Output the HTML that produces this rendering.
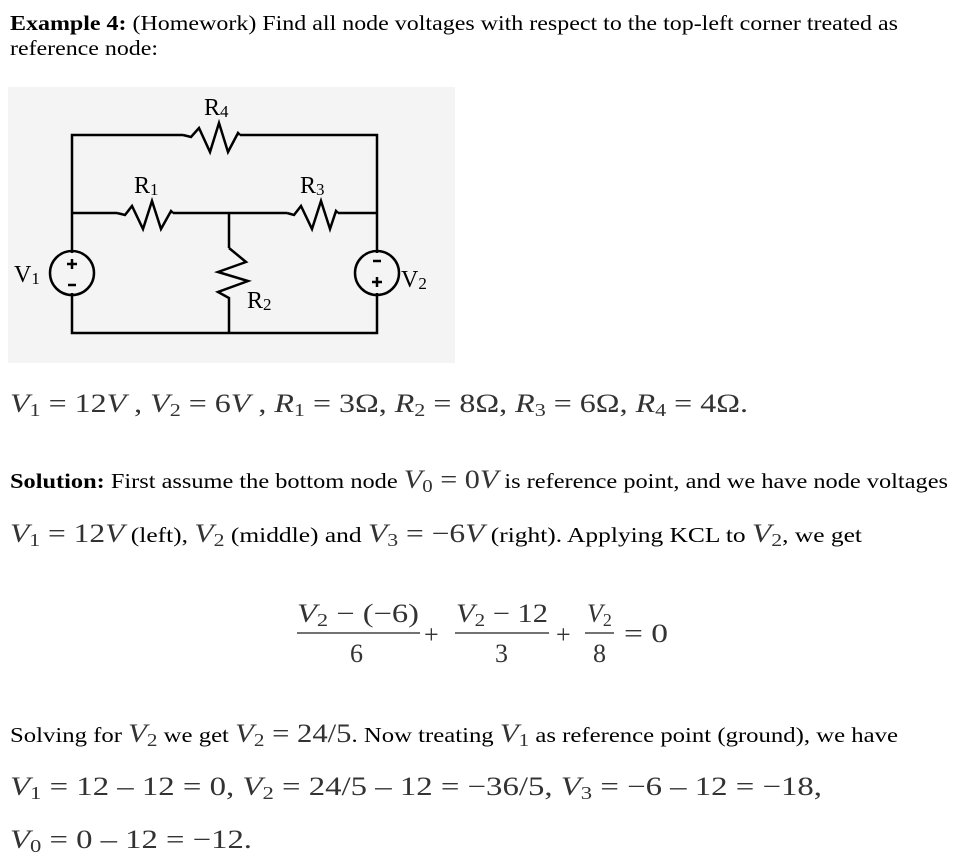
<!DOCTYPE html>
<html><head><meta charset="utf-8"><style>
html,body{margin:0;padding:0;background:#fff;}
svg{display:block;}
.t{font-family:"Liberation Serif",serif;font-size:21px;fill:#000;}
.m{font-family:"Liberation Serif",serif;font-size:26px;fill:#333;}
.c{font-family:"Liberation Serif",serif;font-size:24px;fill:#000;}
tspan.s{font-size:18px;font-style:normal;}
tspan.mi{font-size:26px;font-style:italic;fill:#333;}
tspan.mn{font-size:26px;font-style:normal;fill:#333;}
tspan.i{font-style:italic;}
tspan.sc{font-size:17px;}
</style></head><body>
<svg width="965" height="867" viewBox="0 0 965 867" xmlns="http://www.w3.org/2000/svg">
<text class="t" x="10" y="30" textLength="888" lengthAdjust="spacingAndGlyphs"><tspan font-weight="bold">Example 4:</tspan> (Homework) Find all node voltages with respect to the top-left corner treated as</text>
<text class="t" x="10" y="55" textLength="148" lengthAdjust="spacingAndGlyphs">reference node:</text>

<rect x="8" y="87" width="447" height="276" fill="#f4f4f4"/>
<g stroke="#000" stroke-width="2.5" fill="none">
<polyline points="72,253 72,135 183,135"/>
<polyline points="240,135 377,135 377,253"/>
<polyline points="72,293 72,333 377,333 377,293"/>
<line x1="72" y1="213" x2="117" y2="213"/>
<line x1="173" y1="213" x2="287" y2="213"/>
<line x1="338" y1="213" x2="377" y2="213"/>
<line x1="229" y1="213" x2="229" y2="248"/>
<line x1="229" y1="300" x2="229" y2="333"/>
<polyline points="183,135 191,137 199,128 210,152 219,123 228,152 238,133 240,135"/>
<polyline points="117,213 125,215 132,206 143,229 152,201 161,229 171,211 173,213"/>
<polyline points="287,213 294,215 301,206 312,229 321,201 330,229 336,211 338,213"/>
<polyline points="229,248 246,262 218,272 248,281 218,292 229,298 229,300"/>
<circle cx="72" cy="273" r="22"/>
<circle cx="377" cy="273" r="22"/>
<line x1="72" y1="259" x2="72" y2="269"/><line x1="67" y1="264" x2="77" y2="264"/>
<line x1="68" y1="285" x2="76" y2="285"/>
<line x1="373" y1="261" x2="381" y2="261"/>
<line x1="377" y1="277" x2="377" y2="287"/><line x1="372" y1="282" x2="382" y2="282"/>
</g>
<text class="c" x="204" y="115">R<tspan class="sc" dy="2">4</tspan></text>
<text class="c" x="134" y="193">R<tspan class="sc" dy="2">1</tspan></text>
<text class="c" x="300" y="193">R<tspan class="sc" dy="2">3</tspan></text>
<text class="c" x="247" y="308">R<tspan class="sc" dy="2">2</tspan></text>
<text class="c" x="14" y="282">V<tspan class="sc" dy="2">1</tspan></text>
<text class="c" x="401" y="287">V<tspan class="sc" dy="2">2</tspan></text>

<text class="m" x="10" y="412" textLength="738" lengthAdjust="spacingAndGlyphs"><tspan class="i">V</tspan><tspan class="s" dy="4">1</tspan><tspan dy="-4"> = 12</tspan><tspan class="i">V</tspan> , <tspan class="i">V</tspan><tspan class="s" dy="4">2</tspan><tspan dy="-4"> = 6</tspan><tspan class="i">V</tspan> , <tspan class="i">R</tspan><tspan class="s" dy="4">1</tspan><tspan dy="-4"> = 3Ω, </tspan><tspan class="i">R</tspan><tspan class="s" dy="4">2</tspan><tspan dy="-4"> = 8Ω, </tspan><tspan class="i">R</tspan><tspan class="s" dy="4">3</tspan><tspan dy="-4"> = 6Ω, </tspan><tspan class="i">R</tspan><tspan class="s" dy="4">4</tspan><tspan dy="-4"> = 4Ω.</tspan></text>

<text class="t" x="10" y="488" textLength="938" lengthAdjust="spacingAndGlyphs"><tspan font-weight="bold">Solution:</tspan> First assume the bottom node <tspan class="mi">V</tspan><tspan class="s" fill="#333" dy="4">0</tspan><tspan class="mn" dy="-4"> = 0</tspan><tspan class="mi">V</tspan>  is reference point, and we have node voltages</text>

<text class="t" x="10" y="542" textLength="852" lengthAdjust="spacingAndGlyphs"><tspan class="mi">V</tspan><tspan class="s" fill="#333" dy="4">1</tspan><tspan class="mn" dy="-4"> = 12</tspan><tspan class="mi">V</tspan>  (left), <tspan class="mi">V</tspan><tspan class="s" fill="#333" dy="4">2</tspan><tspan dy="-4"> (middle) and </tspan><tspan class="mi">V</tspan><tspan class="s" fill="#333" dy="4">3</tspan><tspan class="mn" dy="-4"> = −6</tspan><tspan class="mi">V</tspan>  (right). Applying KCL to <tspan class="mi">V</tspan><tspan class="s" fill="#333" dy="4">2</tspan><tspan dy="-4">, we get</tspan></text>

<g stroke="#444" stroke-width="1.5">
<line x1="297" y1="633" x2="420" y2="633"/>
<line x1="455" y1="633" x2="549" y2="633"/>
<line x1="585" y1="633" x2="614" y2="633"/>
</g>
<text class="m" x="297" y="622" textLength="122" lengthAdjust="spacingAndGlyphs"><tspan class="i">V</tspan><tspan class="s" dy="4">2</tspan><tspan dy="-4"> − (−6)</tspan></text>
<text class="m" x="350" y="662">6</text>
<text class="m" x="424" y="643" fill="#777">+</text>
<text class="m" x="456" y="622" textLength="92" lengthAdjust="spacingAndGlyphs"><tspan class="i">V</tspan><tspan class="s" dy="4">2</tspan><tspan dy="-4"> − 12</tspan></text>
<text class="m" x="495" y="662">3</text>
<text class="m" x="556" y="643" fill="#777">+</text>
<text class="m" x="587" y="622"><tspan class="i">V</tspan><tspan class="s" dy="4">2</tspan></text>
<text class="m" x="593" y="662">8</text>
<text class="m" x="624" y="642" textLength="44" lengthAdjust="spacingAndGlyphs">= 0</text>

<text class="t" x="10" y="742" textLength="888" lengthAdjust="spacingAndGlyphs">Solving for <tspan class="mi">V</tspan><tspan class="s" fill="#333" dy="4">2</tspan><tspan dy="-4"> we get </tspan><tspan class="mi">V</tspan><tspan class="s" fill="#333" dy="4">2</tspan><tspan class="mn" dy="-4"> = 24/5</tspan>. Now treating <tspan class="mi">V</tspan><tspan class="s" fill="#333" dy="4">1</tspan><tspan dy="-4"> as reference point (ground), we have</tspan></text>

<text class="m" x="10" y="795" textLength="812" lengthAdjust="spacingAndGlyphs"><tspan class="i">V</tspan><tspan class="s" dy="4">1</tspan><tspan dy="-4"> = 12 – 12 = 0, </tspan><tspan class="i">V</tspan><tspan class="s" dy="4">2</tspan><tspan dy="-4"> = 24/5 – 12 = −36/5, </tspan><tspan class="i">V</tspan><tspan class="s" dy="4">3</tspan><tspan dy="-4"> = −6 – 12 = −18,</tspan></text>

<text class="m" x="10" y="848" textLength="242" lengthAdjust="spacingAndGlyphs"><tspan class="i">V</tspan><tspan class="s" dy="4">0</tspan><tspan dy="-4"> = 0 – 12 = −12.</tspan></text>
</svg>
</body></html>
